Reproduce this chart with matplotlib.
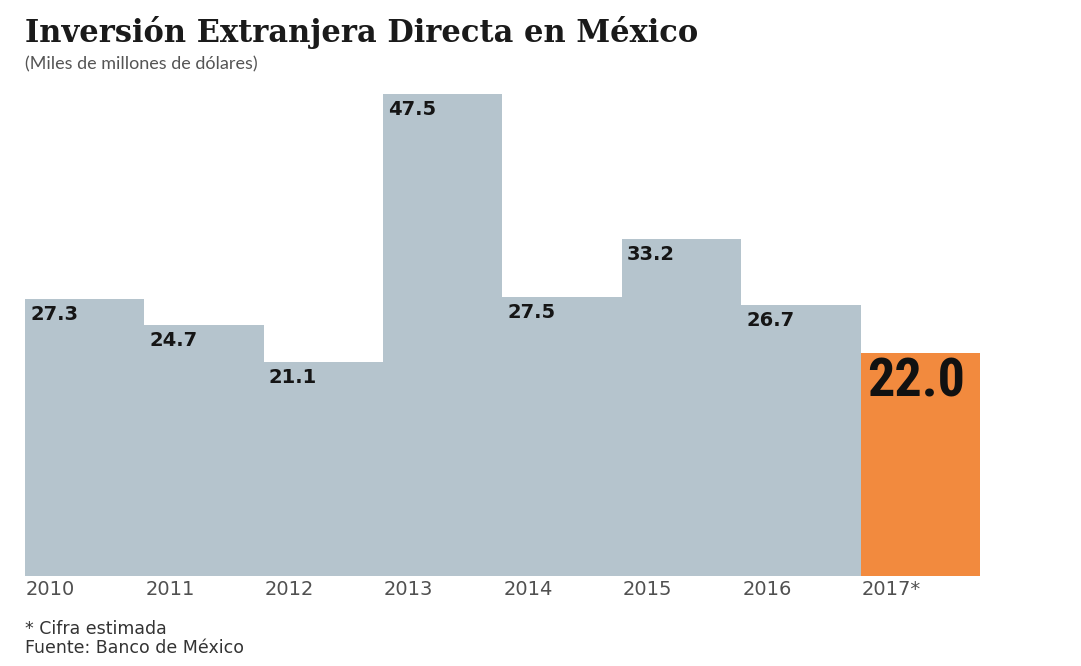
import matplotlib.pyplot as plt
from matplotlib import font_manager as fm

# Data (miles de millones de dólares)
years = ["2010", "2011", "2012", "2013", "2014", "2015", "2016", "2017*"]
values = [27.3, 24.7, 21.1, 47.5, 27.5, 33.2, 26.7, 22.0]
labels = ["27.3", "24.7", "21.1", "47.5", "27.5", "33.2", "26.7", "22.0"]

# pick a narrow font for the big 2017 label if one is installed
fonts = fm.fontManager.ttflist
names = {f.name for f in fonts}
big_font = dict(family=["DejaVu Sans"], fontsize=28)
for nm in ["Liberation Sans Narrow", "Roboto Condensed", "Open Sans Condensed"]:
    if nm in names:
        big_font = dict(family=[nm, "DejaVu Sans"], fontsize=39)
        break
else:
    if any(f.name == "DejaVu Sans" and f.stretch == "condensed" for f in fonts):
        big_font = dict(family=["DejaVu Sans"], fontsize=31, fontstretch="condensed")

W, H = 1081, 666
fig = plt.figure(figsize=(W / 100, H / 100), dpi=100)
fig.patch.set_facecolor("white")

# axes placed in pixel coordinates: bars span x 25..980, baseline y 576, top of 47.5 at y 94
left, right, bottom, top = 25, 980, 576, 94
ax = fig.add_axes([left / W, 1 - bottom / H, (right - left) / W, (bottom - top) / H])
ax.set_xlim(0, len(years))
ax.set_ylim(0, max(values))
ax.axis("off")

colors = ["#b5c4cd"] * (len(years) - 1) + ["#f28a3e"]
xs = list(range(len(years)))
ax.bar(xs, values, width=1.0, align="edge", color=colors, edgecolor="none")

# value labels inside the bars
for x, v, lab in zip(xs[:-1], values[:-1], labels[:-1]):
    ax.annotate(lab, (x, v), xytext=(5, -6), textcoords="offset pixels",
                ha="left", va="top", fontsize=14, fontweight="bold",
                family=["DejaVu Sans"], color="#151515")
ax.annotate(labels[-1], (xs[-1], values[-1]), xytext=(7, -4), textcoords="offset pixels",
            ha="left", va="top", fontweight="bold", color="#111111", **big_font)

# year labels below the bars
for x, y in zip(xs, years):
    ax.annotate(y, (x, 0), xytext=(1, -4), textcoords="offset pixels",
                ha="left", va="top", fontsize=14, family=["DejaVu Sans"],
                color="#505050", annotation_clip=False)

# titles and notes
fig.text(25 / W, 1 - 42 / H, "Inversión Extranjera Directa en México",
         fontsize=22, fontweight="bold", family=["DejaVu Serif"], color="#1a1a1a",
         ha="left", va="baseline")
fig.text(25 / W, 1 - 69 / H, "(Miles de millones de dólares)",
         fontsize=13, family=["Lato", "DejaVu Sans"], color="#555555",
         ha="left", va="baseline")
fig.text(25 / W, 1 - 634 / H, "* Cifra estimada",
         fontsize=12.5, family=["DejaVu Sans"], color="#333333",
         ha="left", va="baseline")
fig.text(25 / W, 1 - 653 / H, "Fuente: Banco de México",
         fontsize=12.5, family=["DejaVu Sans"], color="#333333",
         ha="left", va="baseline")

fig.savefig("out.png", dpi=100, facecolor="white")
